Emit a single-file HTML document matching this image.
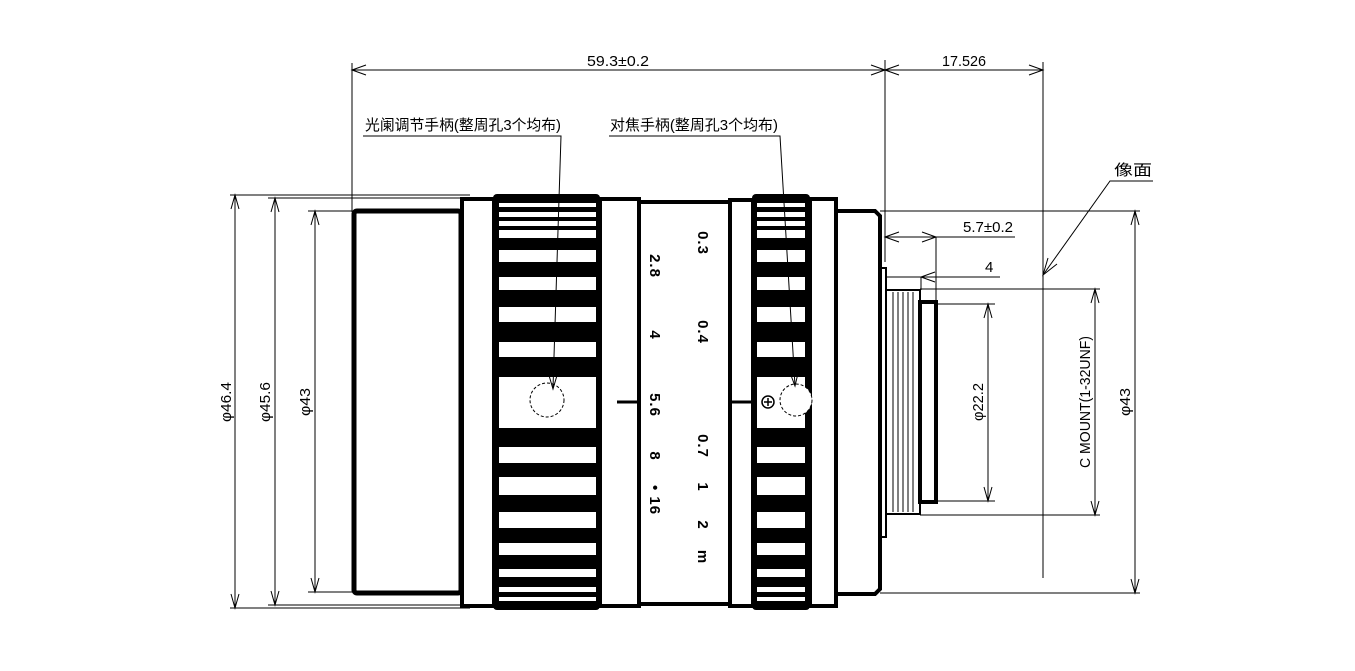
<!DOCTYPE html>
<html><head><meta charset="utf-8"><style>
html,body{margin:0;padding:0;background:#fff;}
svg{display:block;}
text{font-family:"Liberation Sans","Noto Sans CJK SC",sans-serif;fill:#000;}
</style></head><body>
<svg width="1355" height="671" viewBox="0 0 1355 671" xmlns="http://www.w3.org/2000/svg">
<g stroke="#000" stroke-width="1" fill="none">
<line x1="352" y1="70" x2="1043" y2="70"/>
<polyline points="366,65 352,70 366,75"/>
<polyline points="871,65 885,70 871,75"/>
<polyline points="899,65 885,70 899,75"/>
<polyline points="1029,65 1043,70 1029,75"/>
<line x1="352" y1="63" x2="352" y2="212"/>
<line x1="885" y1="60" x2="885" y2="262"/>
<line x1="1043" y1="62" x2="1043" y2="578"/>
<line x1="230" y1="195" x2="470" y2="195"/>
<line x1="230" y1="608" x2="470" y2="608"/>
<line x1="268" y1="198" x2="470" y2="198"/>
<line x1="268" y1="605" x2="470" y2="605"/>
<line x1="308" y1="211" x2="355" y2="211"/>
<line x1="308" y1="592" x2="355" y2="592"/>
<line x1="235" y1="195" x2="235" y2="608"/>
<line x1="275" y1="198" x2="275" y2="605"/>
<line x1="315" y1="211" x2="315" y2="592"/>
<polyline points="231,209 235,195 239,209"/><polyline points="231,594 235,608 239,594"/>
<polyline points="271,212 275,198 279,212"/><polyline points="271,591 275,605 279,591"/>
<polyline points="311,225 315,211 319,225"/><polyline points="311,578 315,592 319,578"/>
<line x1="880" y1="211" x2="1140" y2="211"/>
<line x1="880" y1="593" x2="1140" y2="593"/>
<line x1="1135" y1="211" x2="1135" y2="593"/>
<polyline points="1131,225 1135,211 1139,225"/><polyline points="1131,579 1135,593 1139,579"/>
<line x1="920" y1="289" x2="1100" y2="289"/>
<line x1="920" y1="515" x2="1100" y2="515"/>
<line x1="1095" y1="289" x2="1095" y2="515"/>
<polyline points="1091,303 1095,289 1099,303"/><polyline points="1091,501 1095,515 1099,501"/>
<line x1="937" y1="304" x2="995" y2="304"/>
<line x1="937" y1="501" x2="995" y2="501"/>
<line x1="988" y1="304" x2="988" y2="501"/>
<polyline points="984,318 988,304 992,318"/><polyline points="984,487 988,501 992,487"/>
<line x1="885" y1="237" x2="1015" y2="237"/>
<polyline points="899,232 885,237 899,242"/><polyline points="922,232 936,237 922,242"/>
<line x1="936" y1="237" x2="936" y2="304"/>
<line x1="849" y1="277" x2="1000" y2="277"/>
<polyline points="866,272 880,277 866,282"/><polyline points="935,272 921,277 935,282"/>
<line x1="921" y1="277" x2="921" y2="290"/>
<polyline points="1153,181 1110,181 1043,275"/>
<polyline points="1048,258 1043,275 1057,264"/>
</g>
<g stroke="#000" fill="#fff">
<rect x="354" y="211" width="107" height="382" stroke-width="5" rx="3"/>
<rect x="462" y="199" width="32" height="407" stroke-width="4"/>
<rect x="600" y="199" width="39" height="407" stroke-width="4"/>
<rect x="639" y="202" width="91" height="402" stroke-width="4"/>
<rect x="730" y="200" width="23" height="406" stroke-width="4"/>
<rect x="810" y="199" width="26" height="407" stroke-width="4"/>
<path d="M836,211 L875,211 L880,216 L880,589 L875,594 L836,594 Z" stroke-width="4"/>
<rect x="881" y="268" width="5" height="269" stroke-width="2"/>
<rect x="886" y="290" width="34" height="224" stroke-width="2"/>
<rect x="920" y="302" width="16" height="200" stroke-width="4"/>
</g>
<g stroke="#000" stroke-width="1">
<line x1="893" y1="292" x2="893" y2="512"/><line x1="898" y1="292" x2="898" y2="512"/>
<line x1="903" y1="292" x2="903" y2="512"/><line x1="908" y1="292" x2="908" y2="512"/>
<line x1="913" y1="292" x2="913" y2="512"/>
<line x1="617" y1="402" x2="639" y2="402" stroke-width="3"/>
<line x1="730" y1="402" x2="753" y2="402" stroke-width="3"/>
</g>
<g>
<rect x="493" y="194" width="107" height="416" rx="4" fill="#000"/>
<rect x="752" y="194" width="58" height="416" rx="4" fill="#000"/>
<g fill="#fff">
<rect x="499" y="203" width="97" height="4"/><rect x="499" y="212" width="97" height="5"/>
<rect x="499" y="221" width="97" height="5"/><rect x="499" y="230" width="97" height="8"/>
<rect x="499" y="250" width="97" height="12"/><rect x="499" y="277" width="97" height="13"/>
<rect x="499" y="307" width="97" height="15"/><rect x="499" y="342" width="97" height="15"/>
<rect x="499" y="377" width="97" height="51"/><rect x="499" y="447" width="97" height="16"/>
<rect x="499" y="477" width="97" height="18"/><rect x="499" y="512" width="97" height="16"/>
<rect x="499" y="543" width="97" height="12"/><rect x="499" y="569" width="97" height="8"/>
<rect x="499" y="587" width="97" height="5"/><rect x="499" y="597" width="97" height="4"/>
<rect x="757" y="203" width="48" height="4"/><rect x="757" y="212" width="48" height="5"/>
<rect x="757" y="221" width="48" height="5"/><rect x="757" y="230" width="48" height="8"/>
<rect x="757" y="250" width="48" height="12"/><rect x="757" y="277" width="48" height="13"/>
<rect x="757" y="307" width="48" height="15"/><rect x="757" y="342" width="48" height="15"/>
<rect x="757" y="377" width="48" height="51"/><rect x="757" y="447" width="48" height="16"/>
<rect x="757" y="477" width="48" height="18"/><rect x="757" y="512" width="48" height="16"/>
<rect x="757" y="543" width="48" height="12"/><rect x="757" y="569" width="48" height="8"/>
<rect x="757" y="587" width="48" height="5"/><rect x="757" y="597" width="48" height="4"/>
</g>
<circle cx="547" cy="400" r="17" fill="#fff" stroke="#000" stroke-width="1" stroke-dasharray="3,2"/>
<circle cx="796" cy="400" r="16" fill="#fff" stroke="#000" stroke-width="1" stroke-dasharray="3,2"/>
<circle cx="768" cy="402" r="6" fill="#fff" stroke="#000" stroke-width="1.5"/>
<line x1="764" y1="402" x2="772" y2="402" stroke="#000" stroke-width="1.5"/>
<line x1="768" y1="398" x2="768" y2="406" stroke="#000" stroke-width="1.5"/>
<g stroke="#000" stroke-width="1" fill="none">
<polyline points="363,136 561,136 553,388"/>
<polyline points="548,372 553,389 558,372"/>
<polyline points="609,136 780,136 795,386"/>
<polyline points="789,370 795,386 799,369"/>
</g>
</g>
<g font-size="15">
<text x="618" y="66" text-anchor="middle" textLength="62" lengthAdjust="spacingAndGlyphs">59.3±0.2</text>
<text x="964" y="66" text-anchor="middle" textLength="44" lengthAdjust="spacingAndGlyphs">17.526</text>
<text x="365" y="130" textLength="196" lengthAdjust="spacingAndGlyphs">光阑调节手柄(整周孔3个均布)</text>
<text x="610" y="130" textLength="168" lengthAdjust="spacingAndGlyphs">对焦手柄(整周孔3个均布)</text>
<text x="1114" y="175" textLength="38" lengthAdjust="spacingAndGlyphs">像面</text>
<text x="963" y="232" textLength="50" lengthAdjust="spacingAndGlyphs">5.7±0.2</text>
<text x="985" y="272">4</text>
<text transform="translate(231,402) rotate(-90)" text-anchor="middle" textLength="40" lengthAdjust="spacingAndGlyphs">φ46.4</text>
<text transform="translate(270,402) rotate(-90)" text-anchor="middle" textLength="40" lengthAdjust="spacingAndGlyphs">φ45.6</text>
<text transform="translate(310,402) rotate(-90)" text-anchor="middle" textLength="28" lengthAdjust="spacingAndGlyphs">φ43</text>
<text transform="translate(983,402) rotate(-90)" text-anchor="middle" textLength="38" lengthAdjust="spacingAndGlyphs">φ22.2</text>
<text transform="translate(1090,402) rotate(-90)" text-anchor="middle" textLength="132" lengthAdjust="spacingAndGlyphs">C MOUNT(1-32UNF)</text>
<text transform="translate(1130,402) rotate(-90)" text-anchor="middle" textLength="28" lengthAdjust="spacingAndGlyphs">φ43</text>
</g>
<g font-size="15" font-weight="bold" text-anchor="middle" letter-spacing="1">
<text transform="translate(698,243) rotate(90)">0.3</text>
<text transform="translate(650,266) rotate(90)">2.8</text>
<text transform="translate(698,332) rotate(90)">0.4</text>
<text transform="translate(650,335) rotate(90)">4</text>
<text transform="translate(650,405) rotate(90)">5.6</text>
<text transform="translate(698,446) rotate(90)">0.7</text>
<text transform="translate(650,456) rotate(90)">8</text>
<text transform="translate(698,487) rotate(90)">1</text>
<text transform="translate(650,500) rotate(90)">• 16</text>
<text transform="translate(698,525) rotate(90)">2</text>
<text transform="translate(698,557) rotate(90)">m</text>
</g>
</svg>
</body></html>
